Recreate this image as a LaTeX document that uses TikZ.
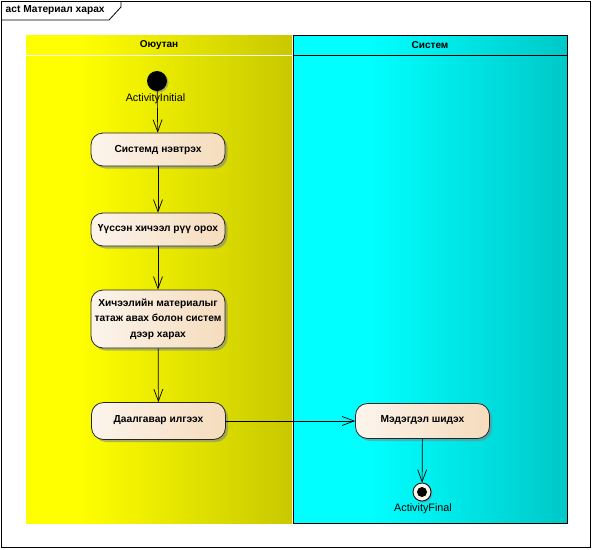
\documentclass[tikz,border=0pt]{standalone}
\usepackage{fontspec}
\setmainfont{Liberation Sans}
\usetikzlibrary{arrows.meta,shadows}
\definecolor{yst}{RGB}{255,255,0}
\definecolor{yend}{RGB}{200,200,0}
\definecolor{cst}{RGB}{0,255,255}
\definecolor{cend}{RGB}{0,200,200}
\definecolor{nodeL}{RGB}{252,244,236}
\definecolor{nodeR}{RGB}{245,220,188}
\definecolor{shadowc}{RGB}{120,130,140}
\pgfdeclarehorizontalshading{ylane}{100bp}{color(0bp)=(yst); color(25bp)=(yst); color(35bp)=(yst); color(75bp)=(yend); color(100bp)=(yend)}
\pgfdeclarehorizontalshading{clane}{100bp}{color(0bp)=(cst); color(25bp)=(cst); color(39bp)=(cst); color(75bp)=(cend); color(100bp)=(cend)}
\tikzset{
  act/.style={draw=black!85, line width=0.8pt, rounded corners=12pt, minimum width=134pt, minimum height=33pt,
    left color=nodeL, right color=nodeR, font=\bfseries\fontsize{10.2}{15.5}\selectfont, align=center, inner sep=2pt,
    drop shadow={shadow xshift=2.5pt, shadow yshift=-2.5pt, fill=shadowc, opacity=0.55}},
  lbl/.style={font=\fontsize{10.8}{12}\selectfont, inner sep=0pt},
  hdr/.style={font=\bfseries\fontsize{10}{11}\selectfont, inner sep=0pt},
  arr/.style={draw=black, line width=0.7pt, -{Straight Barb[length=12pt,width=9pt,line width=0.7pt]}},
}
\begin{document}
\begin{tikzpicture}[x=1pt,y=-1pt]
\useasboundingbox (0,0) rectangle (593,549);
\fill[white] (0,0) rectangle (593,549);
% frame
\draw[line width=0.8pt] (1.5,1.5) rectangle (590,547.5);
\draw[line width=0.8pt] (1.5,20) -- (109,20) -- (121,7) -- (121,1.5);
\node[font=\bfseries\fontsize{10.2}{11}\selectfont, anchor=west, inner sep=0pt] (title) at (5.5,10.5) {act Материал харах};
% lanes
\shade[shading=ylane] (26,35) rectangle (292,523);
\draw[white, line width=0.8pt] (26,55) -- (292,55);
\shade[shading=clane] (293.5,35) rectangle (567.5,523);
\draw[black, line width=0.8pt] (293.5,35) rectangle (567.5,523);
\draw[black, line width=0.8pt] (293.5,55.5) -- (567.5,55.5);
\node[hdr] (h1) at (159,45) {Оюутан};
\node[hdr] (h2) at (430,45) {Систем};
% nodes
\node[circle, fill=black, minimum size=20pt, inner sep=0pt,
  drop shadow={shadow xshift=1.5pt, shadow yshift=-1.5pt, fill=shadowc, opacity=0.55}] (init) at (157,81) {};
\node[lbl] (initl) at (155.5,98.5) {ActivityInitial};
\node[act] (a1) at (158,149.5) {Системд нэвтрэх};
\node[act] (a2) at (158,229.5) {Үүссэн хичээл рүү орох};
\node[act, minimum height=58pt] (a3) at (158,319) {Хичээлийн материалыг\\татаж авах болон систем\\дээр харах};
\node[act, minimum height=37pt] (a4) at (158.5,421) {Даалгавар илгээх\\[-12pt]};
\node[act, minimum height=35pt] (a5) at (422.5,421) {Мэдэгдэл шидэх\\[-12pt]};
\node[circle, draw=black, line width=0.8pt, fill=nodeL, minimum size=18pt, inner sep=0pt,
  drop shadow={shadow xshift=1.5pt, shadow yshift=-1.5pt, fill=shadowc, opacity=0.55}] (fin) at (422,492) {};
\node[circle, fill=black, minimum size=10pt, inner sep=0pt] (finc) at (fin.center) {};
\node[lbl] (finl) at (423,508.5) {ActivityFinal};
% edges
\draw[arr] (init) -- (a1);
\draw[arr] (a1) -- (a2);
\draw[arr] (a2) -- (a3);
\draw[arr] (a3) -- (a4);
\draw[arr] (a4) -- (a5);
\draw[arr] (a5) -- (fin);
\end{tikzpicture}
\end{document}
